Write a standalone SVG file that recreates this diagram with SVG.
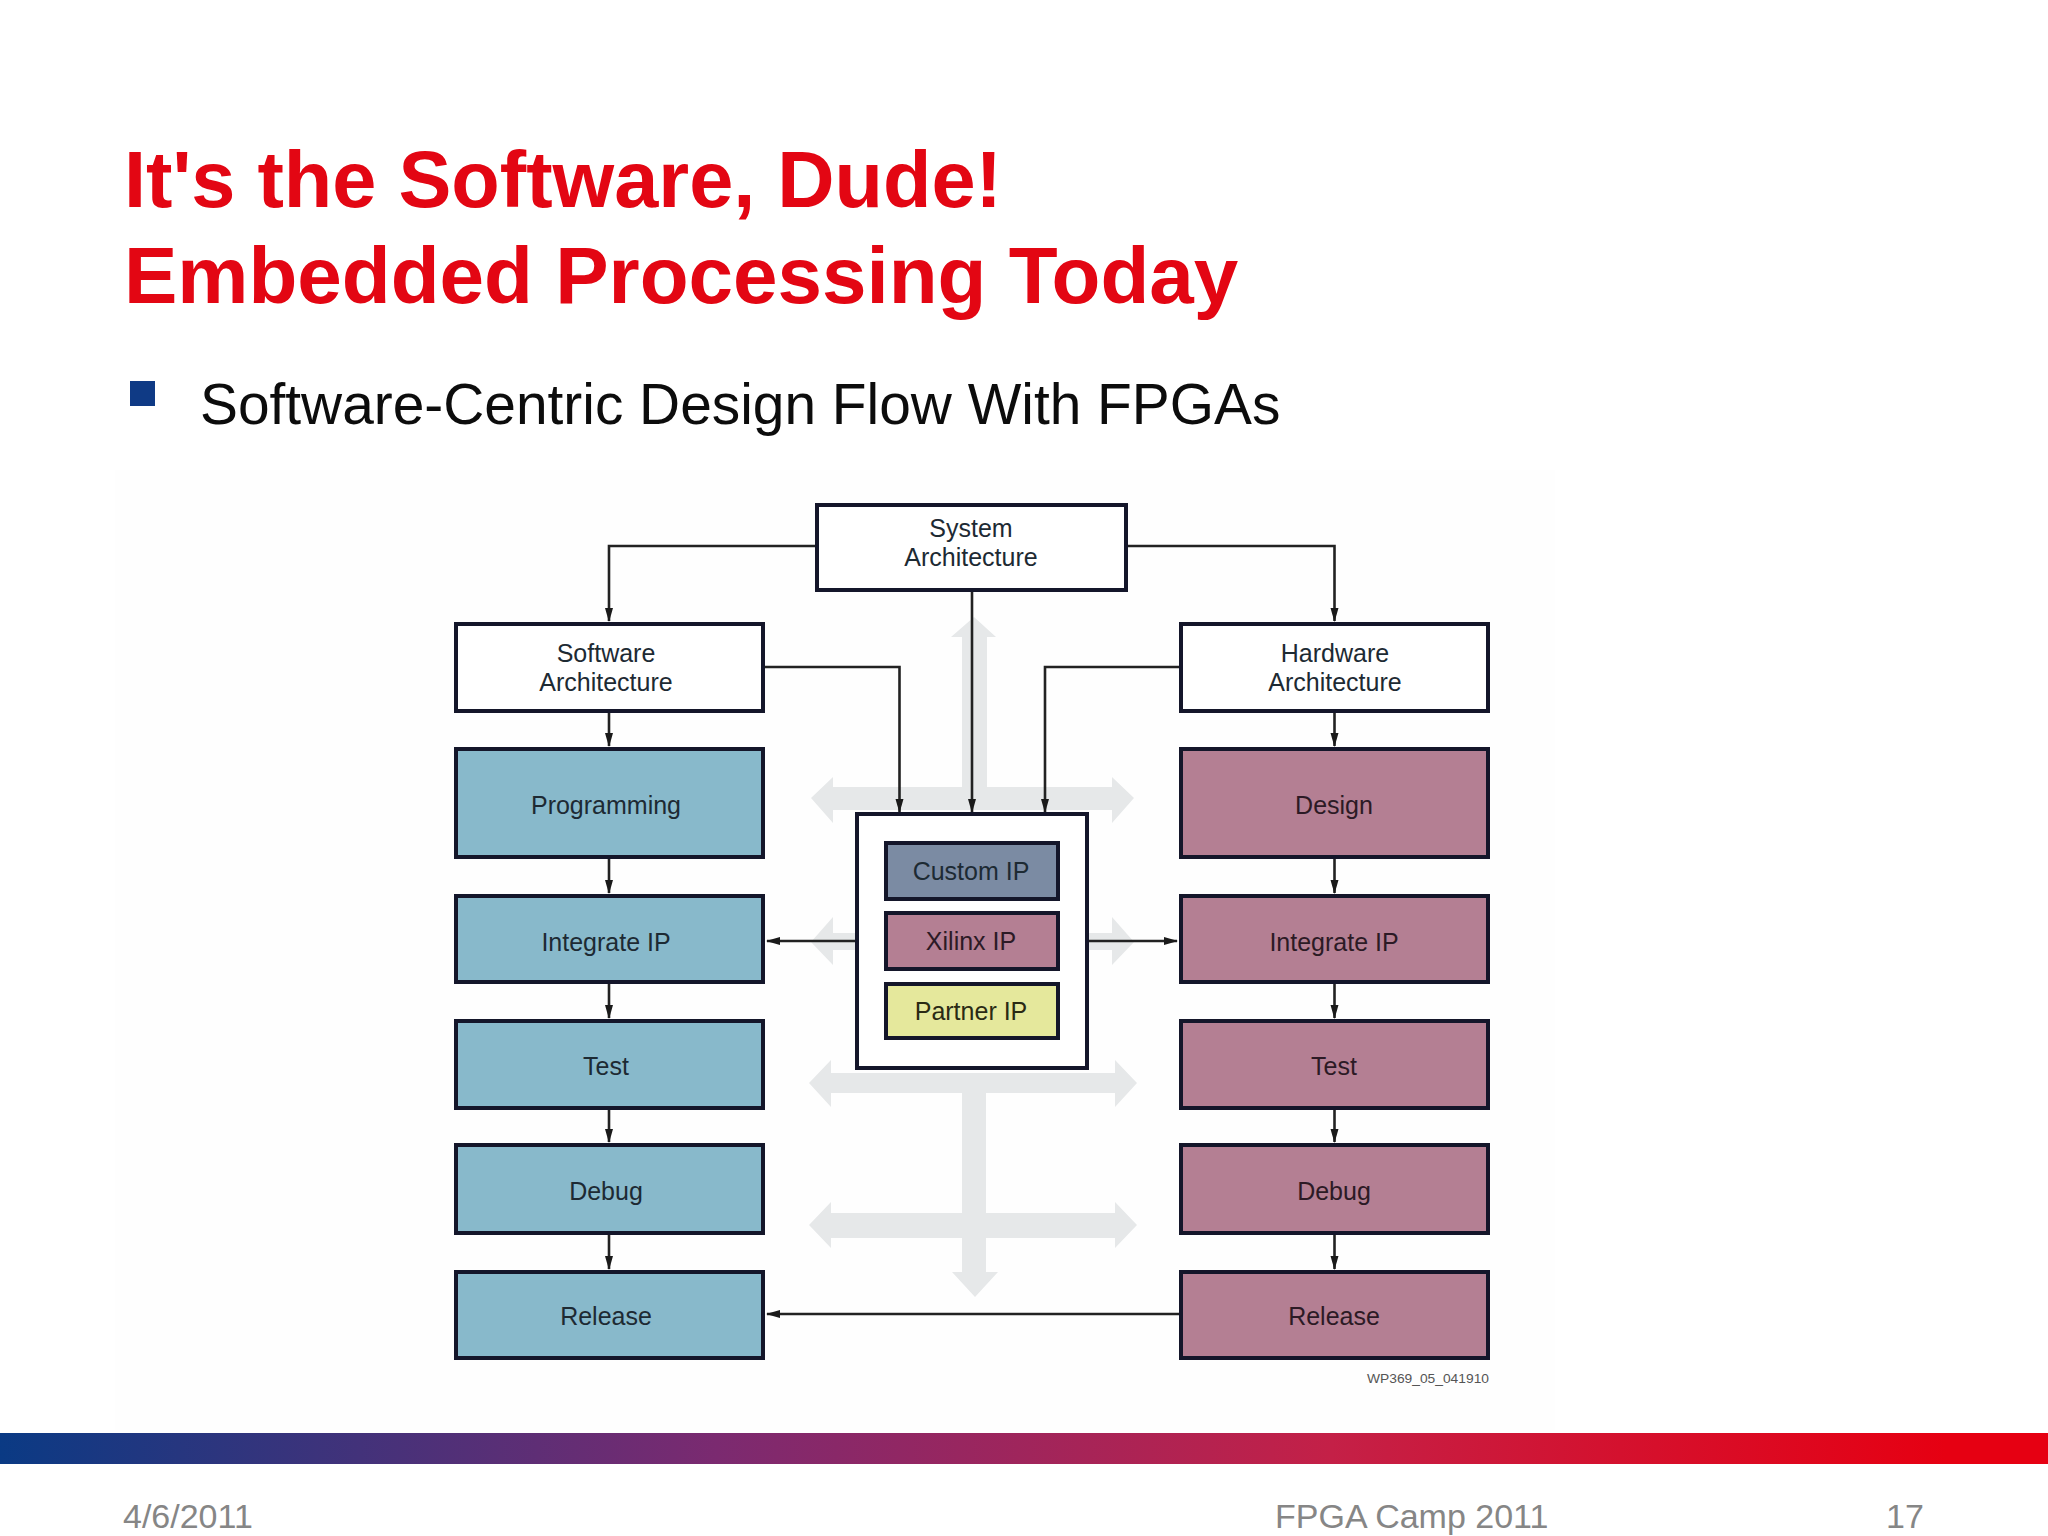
<svg xmlns="http://www.w3.org/2000/svg" width="2048" height="1536" viewBox="0 0 2048 1536">
<style>
text{font-family:"Liberation Sans",Arial,sans-serif}
.title{font-size:80px;font-weight:700;fill:#e30613}
.bul{font-size:56.85px;fill:#0c0c0c}
.foot{font-size:34px;fill:#868686}
.n{font-size:25px;text-anchor:middle;fill:#1d2a33}
.nd{fill:#2c1a25}
.box{stroke:#14162a;stroke-width:4}
.w{fill:#fff}.t{fill:#88b9cb}.m{fill:#b47f93}.c{fill:#7b8ba3}.p{fill:#e5e89c}
.ln{fill:none;stroke:#222;stroke-width:2.6}
.arr{marker-end:url(#ah)}
.ga{fill:#e6e8e9}
</style>
<defs>
<marker id="ah" markerUnits="userSpaceOnUse" markerWidth="14" markerHeight="10" refX="13" refY="5" orient="auto"><path d="M0 1 L14 5 L0 9 Z" fill="#1a1a1a"/></marker>
<linearGradient id="bar" x1="0" x2="1" y1="0" y2="0"><stop offset="0" stop-color="#0a3a84"/><stop offset=".35" stop-color="#7b2a70"/><stop offset=".65" stop-color="#c42047"/><stop offset=".95" stop-color="#e60012"/><stop offset="1" stop-color="#e60012"/></linearGradient>
</defs>
<rect width="2048" height="1536" fill="#fff"/>
<rect x="115" y="470" width="1440" height="960" fill="#fefefe"/>
<text class="title" x="124" y="206.500" textLength="878" lengthAdjust="spacingAndGlyphs">It's the Software, Dude!</text>
<text class="title" x="124" y="303">Embedded Processing Today</text>
<rect x="130" y="381" width="25" height="25" fill="#0f3a85"/>
<text class="bul" x="200" y="424">Software-Centric Design Flow With FPGAs</text>
<g id="background-arrows">
<path class="ga" d="M962 787V637H951L974 617L996 637H987V787H1112V777L1134 798L1112 823V810H833V823L811 798L833 777V787Z"/>
<path class="ga" d="M857 933H833V917L811 942L833 965V950H857Z"/>
<path class="ga" d="M1087 933H1112V917L1134 942L1112 965V950H1087Z"/>
<path class="ga" d="M831 1073V1060L809 1083L831 1107V1093H962V1213H831V1202L809 1225L831 1248V1238H962V1272H952L975 1297L998 1272H986V1238H1115V1248L1137 1225L1115 1202V1213H986V1093H1115V1107L1137 1083L1115 1060V1073Z"/>
</g>
<g id="connectors">
<path class="ln arr" d="M816 546H609V621"/>
<path class="ln arr" d="M1126 546H1334.500V621"/>
<path class="ln arr" d="M763 667H899.500V812"/>
<path class="ln arr" d="M1181 667H1045V812"/>
<path class="ln arr" d="M972 590V812"/>
<path class="ln arr" d="M857 941H767"/>
<path class="ln arr" d="M1087 941H1177"/>
<path class="ln arr" d="M1181 1314H767"/>
<path class="ln arr" d="M609 711V746"/><path class="ln arr" d="M609 857V893"/><path class="ln arr" d="M609 982V1018"/><path class="ln arr" d="M609 1109V1142"/><path class="ln arr" d="M609 1233V1269"/>
<path class="ln arr" d="M1334.500 711V746"/><path class="ln arr" d="M1334.500 857V893"/><path class="ln arr" d="M1334.500 982V1018"/><path class="ln arr" d="M1334.500 1109V1142"/><path class="ln arr" d="M1334.500 1233V1269"/>
</g>
<g id="system-architecture"><rect class="box w" x="817" y="505" width="309" height="85"/><text class="n" x="971" y="537">System</text><text class="n" x="971" y="566">Architecture</text></g>
<g id="software-architecture"><rect class="box w" x="456" y="624" width="307" height="87"/><text class="n" x="606" y="662">Software</text><text class="n" x="606" y="691">Architecture</text></g>
<g id="hardware-architecture"><rect class="box w" x="1181" y="624" width="307" height="87"/><text class="n" x="1335" y="662">Hardware</text><text class="n" x="1335" y="691">Architecture</text></g>
<g id="programming"><rect class="box t" x="456" y="749" width="307" height="108"/><text class="n" x="606" y="814">Programming</text></g>
<g id="sw-integrate"><rect class="box t" x="456" y="896" width="307" height="86"/><text class="n" x="606" y="951">Integrate IP</text></g>
<g id="sw-test"><rect class="box t" x="456" y="1021" width="307" height="87"/><text class="n" x="606" y="1075">Test</text></g>
<g id="sw-debug"><rect class="box t" x="456" y="1145" width="307" height="88"/><text class="n" x="606" y="1200">Debug</text></g>
<g id="sw-release"><rect class="box t" x="456" y="1272" width="307" height="86"/><text class="n" x="606" y="1325">Release</text></g>
<g id="design"><rect class="box m" x="1181" y="749" width="307" height="108"/><text class="n nd" x="1334" y="814">Design</text></g>
<g id="hw-integrate"><rect class="box m" x="1181" y="896" width="307" height="86"/><text class="n nd" x="1334" y="951">Integrate IP</text></g>
<g id="hw-test"><rect class="box m" x="1181" y="1021" width="307" height="87"/><text class="n nd" x="1334" y="1075">Test</text></g>
<g id="hw-debug"><rect class="box m" x="1181" y="1145" width="307" height="88"/><text class="n nd" x="1334" y="1200">Debug</text></g>
<g id="hw-release"><rect class="box m" x="1181" y="1272" width="307" height="86"/><text class="n nd" x="1334" y="1325">Release</text></g>
<g id="ip-container"><rect class="box w" x="857" y="814" width="230" height="254"/></g>
<g id="custom-ip"><rect class="box c" x="886" y="843" width="172" height="56"/><text class="n" x="971" y="880">Custom IP</text></g>
<g id="xilinx-ip"><rect class="box m" x="886" y="913" width="172" height="56"/><text class="n nd" x="971" y="950">Xilinx IP</text></g>
<g id="partner-ip"><rect class="box p" x="886" y="984" width="172" height="54"/><text class="n" x="971" y="1020" style="fill:#2a2a14">Partner IP</text></g>
<text x="1367" y="1383" font-size="13" fill="#555" textLength="122" lengthAdjust="spacingAndGlyphs">WP369_05_041910</text>
<rect y="1433" width="2048" height="31" fill="url(#bar)"/>
<text class="foot" x="123" y="1528">4/6/2011</text>
<text class="foot" x="1275" y="1528">FPGA Camp 2011</text>
<text class="foot" x="1886" y="1528">17</text>
</svg>
